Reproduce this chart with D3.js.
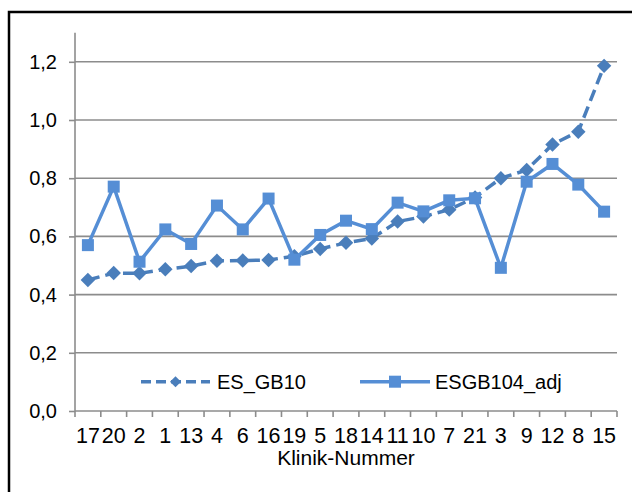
<!DOCTYPE html>
<html>
<head>
<meta charset="utf-8">
<script src="https://cdn.jsdelivr.net/npm/d3@7/dist/d3.min.js"></script>
<style>
  html, body { margin: 0; padding: 0; background: #fff; }
  svg { display: block; }
  text { font-family: "Liberation Sans", Arial, sans-serif; fill: #000; }
</style>
</head>
<body>
<svg id="chart" width="632" height="492"></svg>
<script>
// Clinic numbers along the x axis (sorted by ES_GB10)
const kliniken = ["17","20","2","1","13","4","6","16","19","5","18","14","11","10","7","21","3","9","12","8","15"];
// Series values per clinic
const esGB10 = [0.450,0.474,0.473,0.487,0.498,0.516,0.517,0.519,0.532,0.557,0.578,0.593,0.651,0.668,0.692,0.734,0.800,0.828,0.916,0.960,1.186];
const esgb104Adj = [0.570,0.771,0.513,0.624,0.574,0.706,0.624,0.730,0.520,0.605,0.654,0.625,0.716,0.686,0.724,0.731,0.492,0.788,0.849,0.778,0.685];
const yTicks = [0, 0.2, 0.4, 0.6, 0.8, 1.0, 1.2];
const seriesNames = ["ES_GB10", "ESGB104_adj"];

const svg = d3.select("#chart");
const plot = { left: 75, right: 617, top: 32.7, bottom: 411 };

const x = d3.scaleBand().domain(kliniken).range([plot.left, plot.right]);
const y = d3.scaleLinear().domain([0, 1.3]).range([plot.bottom, plot.top]);
const fmt = v => d3.format(".1f")(v).replace(".", ",");

const gridColor = "#8c8c8c";
const darkBlue = "#4a7ebb";
const lightBlue = "#558ed5";

// Outer frame
svg.append("rect")
  .attr("x", 9).attr("y", 12).attr("width", 660).attr("height", 520)
  .attr("fill", "none").attr("stroke", "#000").attr("stroke-width", 2.5);

// Horizontal gridlines
svg.append("g").selectAll("line").data(yTicks.filter(d => d > 0)).join("line")
  .attr("x1", plot.left).attr("x2", plot.right)
  .attr("y1", d => y(d)).attr("y2", d => y(d))
  .attr("stroke", gridColor).attr("stroke-width", 1.6);

// Y axis
const yAxis = svg.append("g").attr("transform", `translate(${plot.left},0)`)
  .call(d3.axisLeft(y).tickValues(yTicks).tickFormat(fmt).tickSize(6).tickPadding(12));
yAxis.select(".domain").attr("stroke", gridColor).attr("stroke-width", 1.6)
  .attr("d", `M0,${plot.top}V${plot.bottom}`);
yAxis.selectAll(".tick line").attr("stroke", gridColor).attr("stroke-width", 1.6);
yAxis.selectAll(".tick text").attr("font-size", 20).attr("font-family", "Liberation Sans, Arial, sans-serif").attr("fill", "#000");

// X axis baseline, boundary ticks and labels
const xg = svg.append("g");
xg.append("line").attr("x1", plot.left).attr("x2", plot.right)
  .attr("y1", plot.bottom).attr("y2", plot.bottom)
  .attr("stroke", gridColor).attr("stroke-width", 1.6);
const bounds = kliniken.map(k => x(k)).concat([plot.right]);
xg.selectAll("line.tk").data(bounds).join("line").attr("class", "tk")
  .attr("x1", d => d).attr("x2", d => d)
  .attr("y1", plot.bottom).attr("y2", plot.bottom + 6)
  .attr("stroke", gridColor).attr("stroke-width", 1.6);
xg.selectAll("text").data(kliniken).join("text")
  .attr("x", d => x(d) + x.bandwidth() / 2).attr("y", 443)
  .attr("text-anchor", "middle").attr("font-size", 21.5)
  .text(d => d);

svg.append("text")
  .attr("x", (plot.left + plot.right) / 2).attr("y", 465)
  .attr("text-anchor", "middle").attr("font-size", 21)
  .text("Klinik-Nummer");

const cx = (d, i) => x(kliniken[i]) + x.bandwidth() / 2;
const line = d3.line().x(cx).y(d => y(d));

// ES_GB10: dashed line with diamonds
svg.append("path").datum(esGB10)
  .attr("d", line).attr("fill", "none")
  .attr("stroke", darkBlue).attr("stroke-width", 3.5)
  .attr("stroke-dasharray", "12,6");
svg.append("g").selectAll("path").data(esGB10).join("path")
  .attr("transform", (d, i) => `translate(${cx(d, i)},${y(d)}) rotate(45)`)
  .attr("d", d3.symbol().type(d3.symbolSquare).size(105))
  .attr("fill", darkBlue);

// ESGB104_adj: solid line with squares
svg.append("path").datum(esgb104Adj)
  .attr("d", line).attr("fill", "none")
  .attr("stroke", lightBlue).attr("stroke-width", 3.5);
svg.append("g").selectAll("rect").data(esgb104Adj).join("rect")
  .attr("x", (d, i) => cx(d, i) - 6).attr("y", d => y(d) - 6)
  .attr("width", 12).attr("height", 12)
  .attr("fill", lightBlue);

// Legend
const legY = 381.7;
const leg1 = svg.append("g");
leg1.append("line").attr("x1", 141).attr("x2", 210).attr("y1", legY).attr("y2", legY)
  .attr("stroke", darkBlue).attr("stroke-width", 3.5).attr("stroke-dasharray", "10,5");
leg1.append("path").attr("transform", `translate(175.5,${legY}) rotate(45)`)
  .attr("d", d3.symbol().type(d3.symbolSquare).size(60)).attr("fill", darkBlue);
leg1.append("text").attr("x", 217).attr("y", legY + 7).attr("font-size", 20).text(seriesNames[0]);

const leg2 = svg.append("g");
leg2.append("line").attr("x1", 360).attr("x2", 430).attr("y1", legY).attr("y2", legY)
  .attr("stroke", lightBlue).attr("stroke-width", 3.5);
leg2.append("rect").attr("x", 389).attr("y", legY - 6).attr("width", 12).attr("height", 12).attr("fill", lightBlue);
leg2.append("text").attr("x", 435).attr("y", legY + 7).attr("font-size", 20).text(seriesNames[1]);
</script>
</body>
</html>
